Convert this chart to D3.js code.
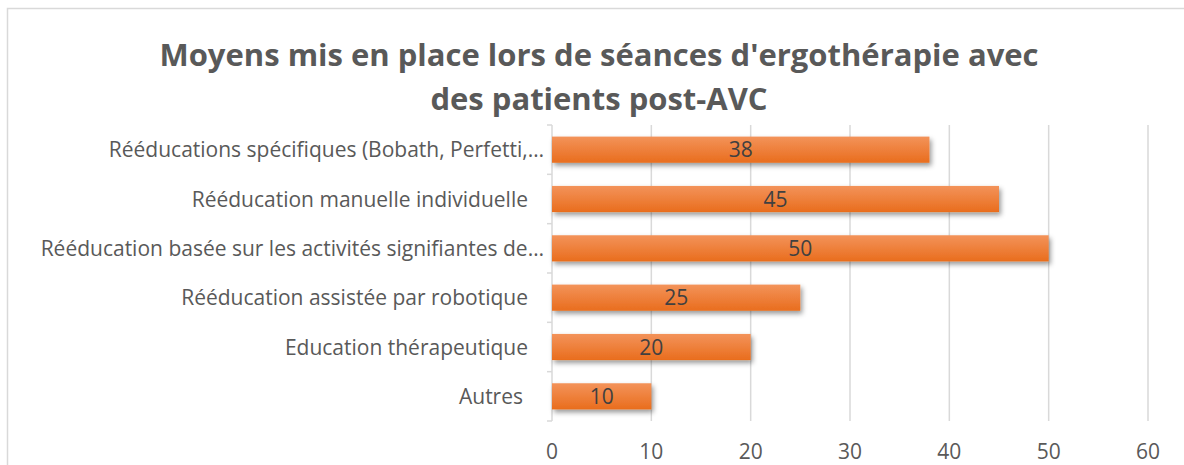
<!DOCTYPE html>
<html>

<head>
    <meta charset="utf-8">
    <style>
        body {
            margin: 0;
            background: white;
            font-family: 'Open Sans', 'Noto Sans', sans-serif;
        }

        svg {
            display: block;
        }
    </style>
</head>

<body>
    <svg width="1184" height="465"></svg>
</body>

<script src="https://d3js.org/d3.v7.min.js"></script>

<script>
    // data
    let categories = [
        "Rééducations spécifiques (Bobath, Perfetti,…",
        "Rééducation manuelle individuelle",
        "Rééducation basée sur les activités signifiantes de…",
        "Rééducation assistée par robotique",
        "Education thérapeutique",
        "Autres"
    ]
    let values = [38, 45, 50, 25, 20, 10]
    let xTicks = [0, 10, 20, 30, 40, 50, 60]
    let titleLines = ["Moyens mis en place lors de séances d'ergothérapie avec", "des patients post-AVC"]

    let width = 1184;
    let height = 465;

    let svg = d3.select("svg")

    // chart frame (runs off the right and bottom of the picture)
    svg.append("rect")
        .attr("x", 7.5)
        .attr("y", 8.5)
        .attr("width", 1200)
        .attr("height", 500)
        .style("fill", "white")
        .style("stroke", "#d9d9d9")
        .style("stroke-width", 1.5)

    let defs = svg.append("defs")

    let grad = defs.append("linearGradient")
        .attr("id", "barGrad")
        .attr("x1", 0).attr("y1", 0)
        .attr("x2", 0).attr("y2", 1)
    grad.append("stop").attr("offset", "0%").attr("stop-color", "#f3935a")
    grad.append("stop").attr("offset", "100%").attr("stop-color", "#e96d1d")

    let shadow = defs.append("filter")
        .attr("id", "barShadow")
        .attr("x", "-10%").attr("y", "-50%")
        .attr("width", "130%").attr("height", "250%")
    shadow.append("feDropShadow")
        .attr("dx", 2)
        .attr("dy", 3)
        .attr("stdDeviation", 2.5)
        .attr("flood-color", "#000")
        .attr("flood-opacity", 0.4)

    let x = d3.scaleLinear()
        .domain([0, 60])
        .range([552, 1148])

    let y = d3.scaleBand()
        .domain(categories)
        .range([125, 421])

    let barH = y.bandwidth() * 0.53

    // gridlines
    svg.selectAll(".grid")
        .data(xTicks.slice(1))
        .join("line")
        .attr("x1", d => x(d))
        .attr("x2", d => x(d))
        .attr("y1", 125)
        .attr("y2", 421)
        .style("stroke", "#d9d9d9")
        .style("stroke-width", 1.5)

    // category axis line and ticks between categories
    svg.append("line")
        .attr("x1", x(0)).attr("x2", x(0))
        .attr("y1", 125).attr("y2", 421)
        .style("stroke", "#d9d9d9")
        .style("stroke-width", 1.5)

    let bounds = categories.map(c => y(c)).concat([421])
    svg.selectAll(".ytick")
        .data(bounds)
        .join("line")
        .attr("x1", x(0) - 5)
        .attr("x2", x(0))
        .attr("y1", d => d)
        .attr("y2", d => d)
        .style("stroke", "#d9d9d9")
        .style("stroke-width", 1.5)

    // bars
    svg.selectAll(".bar")
        .data(values)
        .join("rect")
        .attr("x", x(0))
        .attr("y", (d, i) => y(categories[i]) + (y.bandwidth() - barH) / 2)
        .attr("width", d => x(d) - x(0))
        .attr("height", barH)
        .style("fill", "url(#barGrad)")
        .attr("filter", "url(#barShadow)")

    // value labels in the middle of each bar
    svg.selectAll(".val")
        .data(values)
        .join("text")
        .attr("x", d => (x(d) + x(0)) / 2)
        .attr("y", (d, i) => y(categories[i]) + y.bandwidth() / 2)
        .attr("dy", "0.36em")
        .attr("text-anchor", "middle")
        .style("font-size", "21px")
        .style("fill", "#404040")
        .text(d => d)

    // category labels
    svg.selectAll(".cat")
        .data(categories)
        .join("text")
        .attr("x", d => d.endsWith("…") ? 544 : (d == "Autres" ? 523 : 528))
        .attr("y", d => y(d) + y.bandwidth() / 2)
        .attr("dy", "0.36em")
        .attr("text-anchor", "end")
        .style("font-size", "21px")
        .style("fill", "#595959")
        .text(d => d)

    // x tick labels
    svg.selectAll(".xlab")
        .data(xTicks)
        .join("text")
        .attr("x", d => x(d))
        .attr("y", 459)
        .attr("text-anchor", "middle")
        .style("font-size", "21px")
        .style("fill", "#595959")
        .text(d => d)

    // title
    svg.selectAll(".title")
        .data(titleLines)
        .join("text")
        .attr("x", 599)
        .attr("y", (d, i) => 66 + i * 44)
        .attr("text-anchor", "middle")
        .style("font-size", "31px")
        .style("font-weight", "bold")
        .style("fill", "#595959")
        .text(d => d)
</script>

</html>
